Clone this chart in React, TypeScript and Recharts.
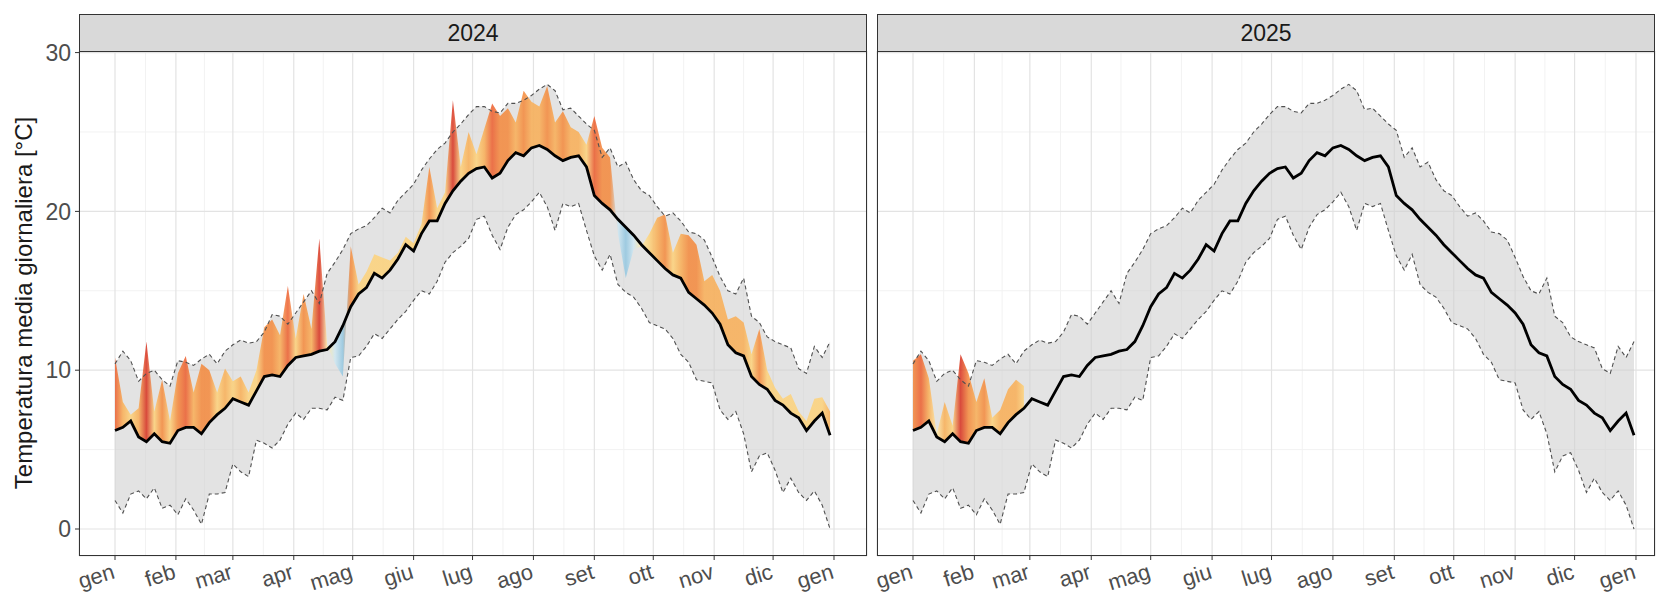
import React from "react";
import { ComposedChart, Area, Line, XAxis, YAxis, CartesianGrid } from "recharts";

const FONT = "'Liberation Sans', Arial, sans-serif";

// daily values sampled every 4 days (day of year, 0 = 1 Jan)
const days = Array.from({ length: 92 }, (_, i) => i * 4);

// climatology: mean, upper and lower bound (°C)
const meanTemp = [
  6.2, 6.4, 6.8, 5.8, 5.5, 6.0, 5.5, 5.4, 6.2, 6.4,
  6.4, 6.0, 6.7, 7.2, 7.6, 8.2, 8.0, 7.8, 8.7, 9.6,
  9.7, 9.6, 10.3, 10.8, 10.9, 11.0, 11.2, 11.3, 11.8, 12.8,
  14.0, 14.8, 15.2, 16.1, 15.8, 16.3, 17.0, 17.9, 17.5, 18.6,
  19.4, 19.4, 20.5, 21.3, 21.9, 22.4, 22.7, 22.8, 22.1, 22.4,
  23.2, 23.7, 23.5, 24.0, 24.15, 23.9, 23.5, 23.2, 23.4, 23.5,
  22.8, 21.0, 20.5, 20.1, 19.5, 19.0, 18.5, 17.9, 17.4, 16.9,
  16.4, 16.0, 15.8, 14.9, 14.5, 14.1, 13.6, 12.9, 11.6, 11.1,
  10.9, 9.6, 9.1, 8.8, 8.1, 7.8, 7.3, 7.0, 6.2, 6.8,
  7.3, 5.9,
];

const upperTemp = [
  10.4, 11.2, 10.6, 9.3, 9.8, 10.0, 9.4, 9.0, 10.6, 10.5,
  10.3, 10.7, 11.0, 10.4, 11.2, 11.6, 11.9, 11.7, 11.8, 12.4,
  13.5, 13.4, 12.9, 13.6, 14.3, 15.0, 14.2, 16.1, 16.8, 17.6,
  18.6, 18.9, 19.1, 19.6, 20.2, 19.9, 20.7, 21.2, 21.7, 22.6,
  23.3, 23.9, 24.3, 25.0, 25.5, 26.1, 26.6, 26.6, 26.3, 26.2,
  26.8, 26.8, 27.0, 27.3, 27.7, 28.0, 27.6, 26.4, 26.5, 26.0,
  25.5, 25.1, 23.4, 24.0, 22.8, 23.1, 22.0, 21.3, 21.0, 20.3,
  19.7, 19.9, 19.4, 18.7, 18.6, 18.2, 17.1, 15.9, 15.0, 14.8,
  15.8, 13.4, 13.0, 12.1, 11.8, 11.6, 11.4, 10.1, 9.8, 11.5,
  10.8, 11.8,
];

const lowerTemp = [
  1.8, 1.0, 2.2, 2.4, 1.9, 2.6, 1.3, 1.5, 0.9, 1.9,
  1.2, 0.3, 2.2, 2.2, 2.3, 4.1, 3.6, 3.3, 5.6, 5.4,
  5.1, 5.6, 6.6, 7.3, 6.9, 7.6, 7.6, 7.5, 8.3, 8.1,
  10.8, 10.9, 11.5, 12.3, 12.0, 12.6, 13.2, 13.7, 14.4, 15.0,
  14.8, 15.6, 16.8, 17.4, 17.8, 18.3, 19.5, 19.7, 18.5, 17.6,
  19.0, 19.8, 20.1, 20.6, 21.2, 20.3, 18.8, 20.5, 20.3, 20.5,
  18.8, 17.2, 16.3, 17.3, 15.4, 14.9, 14.6, 13.9, 13.0, 12.8,
  12.6, 12.0, 11.0, 10.5, 9.4, 9.3, 9.2, 7.5, 6.9, 7.4,
  6.0, 3.6, 4.6, 4.8, 3.7, 2.3, 3.2, 2.3, 1.8, 2.4,
  1.5, 0.0,
];

// observed daily mean temperature
const actual2024 = [
  10.8, 8.0, 7.2, 7.6, 11.8, 7.4, 9.4, 6.8, 9.8, 10.9,
  8.6, 10.4, 10.0, 8.6, 10.1, 9.3, 9.6, 8.6, 10.0, 12.7,
  13.2, 12.2, 15.3, 12.0, 14.8, 12.6, 18.3, 11.6, 10.4, 9.6,
  17.8, 15.4, 16.2, 17.3, 17.1, 16.9, 17.4, 18.4, 18.0, 19.2,
  22.8, 20.2, 21.2, 27.0, 22.8, 25.0, 23.6, 25.2, 26.8, 26.0,
  26.5, 25.6, 27.6, 26.9, 26.6, 27.9, 25.6, 26.3, 25.3, 25.0,
  24.2, 26.0, 24.0, 23.4, 18.6, 15.8, 17.6, 17.8, 18.6, 19.6,
  19.8, 17.4, 18.6, 18.5, 17.9, 15.6, 16.0, 15.0, 13.2, 13.4,
  13.0, 11.0, 12.6, 10.0, 8.9, 8.2, 8.5, 7.4, 6.8, 8.2,
  8.3, 7.4,
];

const actual2025 = [10.6, 11.0, 9.5, 6.0, 8.0, 6.5, 11.0, 9.8, 8.0, 9.5, 7.0, 7.5, 8.8, 9.4, 9.0];

const monthLabels = ["gen", "feb", "mar", "apr", "mag", "giu", "lug", "ago", "set", "ott", "nov", "dic", "gen"];
const monthStarts2024 = [0, 31, 60, 91, 121, 152, 182, 213, 244, 274, 305, 335, 366];
const monthStarts2025 = [0, 31, 59, 90, 120, 151, 181, 212, 243, 273, 304, 334, 365];
const yTicks = [0, 10, 20, 30];
const yMinor = [5, 15, 25];

const Y_DOMAIN: [number, number] = [-1.7, 30.1];

type Row = { day: number; mean: number; upper: number; lower: number; actual: number | null };

const buildRows = (actual: number[]): Row[] =>
  days.map((day, i) => ({
    day,
    mean: meanTemp[i],
    upper: upperTemp[i],
    lower: lowerTemp[i],
    actual: i < actual.length ? actual[i] : null,
  }));

// anomaly (observed - mean) -> fill colour
const anomalyColor = (a: number) => {
  if (a >= 5.5) return "#d7301f";
  if (a >= 4.5) return "#ec5d2e";
  if (a >= 3) return "#f4883b";
  if (a >= 1.5) return "#f9ae55";
  if (a >= 0.3) return "#fdd27a";
  if (a >= -0.3) return "#fee9a8";
  if (a >= -2) return "#cfe7f2";
  return "#92c6e0";
};

const YTick = (p: any) => (
  <text x={p.x - 2} y={p.y} dy="0.36em" textAnchor="end" fontSize={23} fill="#4d4d4d" fontFamily={FONT}>
    {p.payload.value}
  </text>
);

const makeXTick = (ticks: number[]) => (p: any) => {
  const ax = p.x + 1;
  const ay = p.y + 16;
  return (
    <text x={ax} y={ay} textAnchor="end" transform={`rotate(-17 ${ax} ${ay})`} fontSize={22} fill="#4d4d4d" fontFamily={FONT}>
      {monthLabels[ticks.indexOf(p.payload.value)]}
    </text>
  );
};

type PanelProps = {
  year: string;
  actual: number[];
  ticks: number[];
  xDomain: [number, number];
  plotLeft: number;
  plotWidth: number;
  showY: boolean;
};

// plotLeft = page x of the panel's left border; the svg starts 79px further left
const Panel = ({ year, actual, ticks, xDomain, plotLeft, plotWidth, showY }: PanelProps) => {
  const rows = buildRows(actual);
  const gradId = `anom${year}`;
  const lastDay = days[actual.length - 1];
  const padL = 79;
  const yW = showY ? padL : 0;
  const mids = ticks.slice(1).map((t, i) => (t + ticks[i]) / 2);

  return (
    <div style={{ position: "absolute", left: plotLeft - padL, top: 0 }}>
      <ComposedChart
        width={padL + plotWidth + 1}
        height={594}
        data={rows}
        margin={{ top: 51, right: 1, bottom: 0, left: padL - yW }}
      >
        <defs>
          <linearGradient id={gradId} x1="0" y1="0" x2="1" y2="0">
            {actual.map((v, i) => (
              <stop key={i} offset={days[i] / lastDay} stopColor={anomalyColor(v - meanTemp[i])} />
            ))}
          </linearGradient>
        </defs>
        <CartesianGrid stroke="#f2f2f2" strokeWidth={1} verticalValues={mids} horizontalValues={yMinor} />
        <CartesianGrid stroke="#e3e3e3" strokeWidth={1.2} />
        <XAxis
          type="number"
          dataKey="day"
          domain={xDomain}
          ticks={ticks}
          interval={0}
          allowDataOverflow
          axisLine={false}
          tickLine={{ stroke: "#333" }}
          tickSize={4}
          height={38}
          tick={makeXTick(ticks)}
        />
        <YAxis
          type="number"
          domain={Y_DOMAIN}
          ticks={yTicks}
          interval={0}
          allowDataOverflow
          axisLine={false}
          tickLine={{ stroke: "#333" }}
          tickSize={4}
          width={yW}
          hide={!showY}
          tick={YTick}
        />
        <Area
          dataKey={(d: Row) => [d.lower, d.upper]}
          type="linear"
          stroke="none"
          fill="#d0d0d0"
          fillOpacity={0.6}
          isAnimationActive={false}
          activeDot={false}
        />
        <Area
          dataKey={(d: Row) => (d.actual == null ? null : [d.mean, d.actual])}
          type="linear"
          stroke="none"
          fill={`url(#${gradId})`}
          fillOpacity={0.85}
          isAnimationActive={false}
          activeDot={false}
        />
        <Line dataKey="upper" type="linear" stroke="#505050" strokeWidth={1.1} strokeDasharray="4 3" dot={false} activeDot={false} isAnimationActive={false} />
        <Line dataKey="lower" type="linear" stroke="#505050" strokeWidth={1.1} strokeDasharray="4 3" dot={false} activeDot={false} isAnimationActive={false} />
        <Line dataKey="mean" type="linear" stroke="#000" strokeWidth={2.8} dot={false} activeDot={false} isAnimationActive={false} />
      </ComposedChart>

      <div
        style={{
          position: "absolute", left: padL, top: 14, width: plotWidth, height: 38,
          boxSizing: "border-box", background: "#d9d9d9", border: "1px solid #333",
          display: "flex", alignItems: "center", justifyContent: "center",
          fontSize: 23, color: "#1a1a1a", fontFamily: FONT,
        }}
      >
        {year}
      </div>
      <div
        style={{
          position: "absolute", left: padL, top: 51, width: plotWidth, height: 505,
          boxSizing: "border-box", border: "1px solid #333", pointerEvents: "none",
        }}
      />
    </div>
  );
};

export default function App() {
  return (
    <div
      style={{
        position: "absolute", left: 0, top: 0, width: 1656, height: 594,
        overflow: "hidden", background: "#fff", fontFamily: FONT,
      }}
    >
      <div
        style={{
          position: "absolute", left: 24, top: 303, transform: "translate(-50%, -50%) rotate(-90deg)",
          whiteSpace: "nowrap", fontSize: 24, color: "#1a1a1a",
        }}
      >
        Temperatura media giornaliera [°C]
      </div>
      <Panel year="2024" actual={actual2024} ticks={monthStarts2024} xDomain={[-18.33, 382.8]} plotLeft={79} plotWidth={788} showY />
      <Panel year="2025" actual={actual2025} ticks={monthStarts2025} xDomain={[-18.17, 374.6]} plotLeft={877} plotWidth={778} showY={false} />
    </div>
  );
}
